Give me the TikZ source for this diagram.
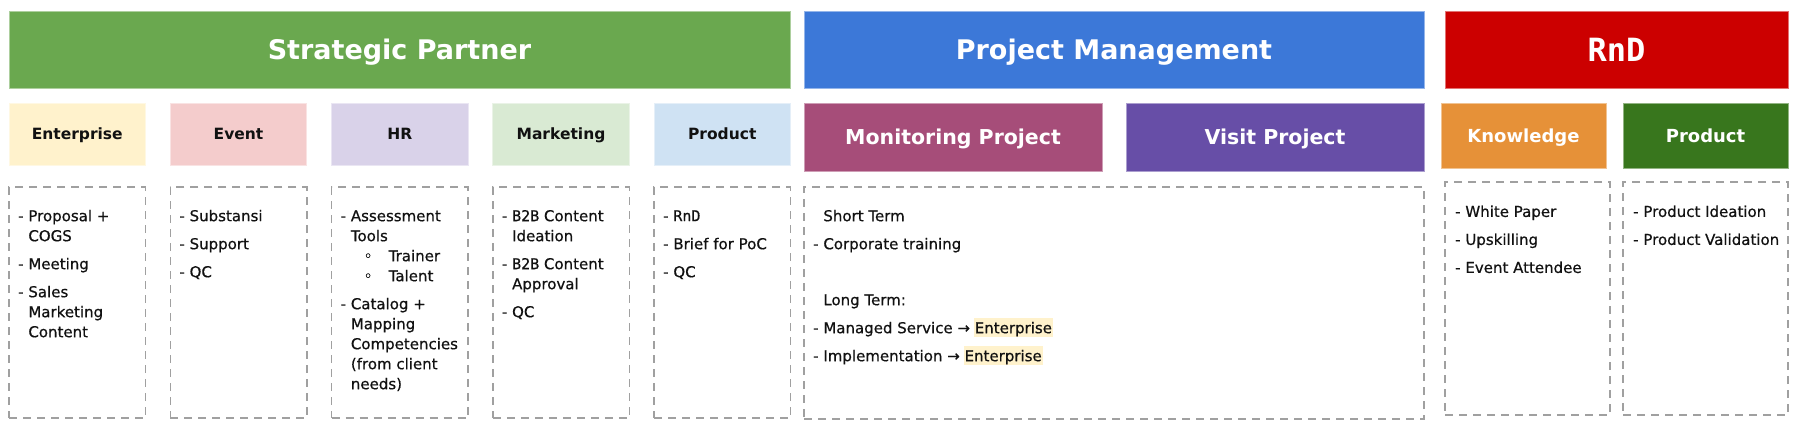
\documentclass[tikz,border=0pt]{standalone}
\usepackage{fontspec}
\setmainfont{DejaVu Sans}
\newfontfamily\monof{DejaVu Sans Mono}
\newfontfamily\bodyf[FakeBold=0.6]{DejaVu Sans}
\newfontfamily\bodymono[FakeBold=0.6]{DejaVu Sans Mono}
\definecolor{spgreen}{HTML}{6AA84F}
\definecolor{pmblue}{HTML}{3C78D8}
\definecolor{rndred}{HTML}{CC0000}
\definecolor{entc}{HTML}{FFF2CC}
\definecolor{evtc}{HTML}{F4CCCC}
\definecolor{hrc}{HTML}{D9D2E9}
\definecolor{mktc}{HTML}{D9EAD3}
\definecolor{prdc}{HTML}{CFE2F3}
\definecolor{monc}{HTML}{A64D79}
\definecolor{visc}{HTML}{674EA7}
\definecolor{knwc}{HTML}{E69138}
\definecolor{pgc}{HTML}{38761D}
\definecolor{dashc}{HTML}{A0A0A0}
\definecolor{txt}{HTML}{111111}
\newcommand\hgi{\phantom{- }}
\newcommand\hlt[1]{\hspace*{-1pt}{\setlength{\fboxsep}{0pt}\colorbox{entc}{\rule[-4pt]{0pt}{19pt}\hspace*{1pt}#1\hspace*{1pt}}}}
\newcommand\fst{\rule{0pt}{12pt}}
\newcommand\subb{\makebox[48pt][l]{\hspace*{23pt}◦}}
\begin{document}
\begin{tikzpicture}[x=1pt,y=-1pt,
  cell/.style={rectangle, inner sep=0pt, outer sep=0pt, fill=#1, draw=#1!55!white, line width=0.8pt},
  title/.style={font=\fontsize{27}{31}\selectfont\bfseries, text=white, text height=19.7pt, text depth=0pt},
  subdark/.style={font=\fontsize{15.5}{18}\selectfont\bfseries, text=txt, text height=11.3pt, text depth=0pt},
  sublight/.style={font=\fontsize{20.5}{24}\selectfont\bfseries, text=white, text height=15pt, text depth=0pt},
  subrnd/.style={font=\fontsize{18}{22}\selectfont\bfseries, text=white, text height=13.1pt, text depth=0pt},
  dbox/.style={rectangle, draw=dashc, dash pattern=on 8pt off 6pt, line width=1.5pt, inner sep=0pt},
  body/.style={anchor=north west, inner sep=0pt, align=left, font=\fontsize{15}{20}\selectfont\bodyf, text=txt}]
\useasboundingbox (0,0) rectangle (1806,442);

% top bars
\node[cell=spgreen, title, minimum width=781pt, minimum height=77pt] (sp) at (399.5,49.5) {Strategic Partner};
\node[cell=pmblue, title, minimum width=620pt, minimum height=77pt] (pm) at (1114,49.5) {Project Management};
\node[cell=rndred, title, text height=23.3pt, minimum width=343pt, minimum height=77pt] (rnd) at (1616.5,49.5) {\fontsize{32}{35}\selectfont\monof\bfseries RnD};

% Strategic Partner sub headers
\node[cell=entc, subdark, minimum width=136.5pt, minimum height=62pt] (ent) at (77.25,134) {Enterprise};
\node[cell=evtc, subdark, minimum width=136.5pt, minimum height=62pt] (evt) at (238.5,134) {Event};
\node[cell=hrc, subdark, minimum width=136.5pt, minimum height=62pt] (hr) at (399.75,134) {HR};
\node[cell=mktc, subdark, minimum width=136.5pt, minimum height=62pt] (mkt) at (561,134) {Marketing};
\node[cell=prdc, subdark, minimum width=136.5pt, minimum height=62pt] (prd) at (722.25,134) {Product};

% Project Management sub headers
\node[cell=monc, sublight, minimum width=298pt, minimum height=68pt] (mon) at (953,137) {Monitoring Project};
\node[cell=visc, sublight, minimum width=298pt, minimum height=68pt] (vis) at (1275,137) {Visit Project};

% RnD sub headers
\node[cell=knwc, subrnd, minimum width=165pt, minimum height=65pt] (knw) at (1523.5,135.5) {Knowledge};
\node[cell=pgc, subrnd, minimum width=165pt, minimum height=65pt] (prg) at (1705.5,135.5) {Product};

% dashed content boxes
\node[dbox, minimum width=136.5pt, minimum height=231pt] (d1) at (77.25,302.5) {};
\node[dbox, minimum width=136.5pt, minimum height=231pt] (d2) at (238.5,302.5) {};
\node[dbox, minimum width=136.5pt, minimum height=231pt] (d3) at (399.75,302.5) {};
\node[dbox, minimum width=136.5pt, minimum height=231pt] (d4) at (561,302.5) {};
\node[dbox, minimum width=136.5pt, minimum height=231pt] (d5) at (722.25,302.5) {};
\node[dbox, minimum width=620pt, minimum height=232pt] (dmon) at (1114,303) {};
\node[dbox, minimum width=165pt, minimum height=233pt] (dknw) at (1527.5,298.5) {};
\node[dbox, minimum width=165pt, minimum height=233pt] (dprg) at (1705.5,298.5) {};

% texts
\node[body] (t1) at (18,209) {\fst- Proposal +\\
\hgi COGS\\[8pt]
- Meeting\\[8pt]
- Sales\\
\hgi Marketing\\
\hgi Content};

\node[body] (t2) at (179.25,209) {\fst- Substansi\\[8pt]
- Support\\[8pt]
- QC};

\node[body] (t3) at (340.5,209) {\fst- Assessment\\
\hgi Tools\\
\subb Trainer\\
\subb Talent\\[8pt]
- Catalog +\\
\hgi Mapping\\
\hgi Competencies\\
\hgi (from client\\
\hgi needs)};

\node[body] (t4) at (501.75,209) {\fst- {\bodymono B2B} Content\\
\hgi Ideation\\[8pt]
- {\bodymono B2B} Content\\
\hgi Approval\\[8pt]
- QC};

\node[body] (t5) at (663,209) {\fst- {\bodymono RnD}\\[8pt]
- Brief for PoC\\[8pt]
- QC};

\node[body] (t6) at (813,209) {\fst\hgi Short Term\\[8pt]
- Corporate training\\[36pt]
\hgi Long Term:\\[8pt]
- Managed Service → \hlt{Enterprise}\\[8pt]
- Implementation → \hlt{Enterprise}};

\node[body] (t7) at (1455,204.7) {\fst- White Paper\\[8pt]
- Upskilling\\[8pt]
- Event Attendee};

\node[body] (t8) at (1633,204.7) {\fst- Product Ideation\\[8pt]
- Product Validation};
\end{tikzpicture}
\end{document}
